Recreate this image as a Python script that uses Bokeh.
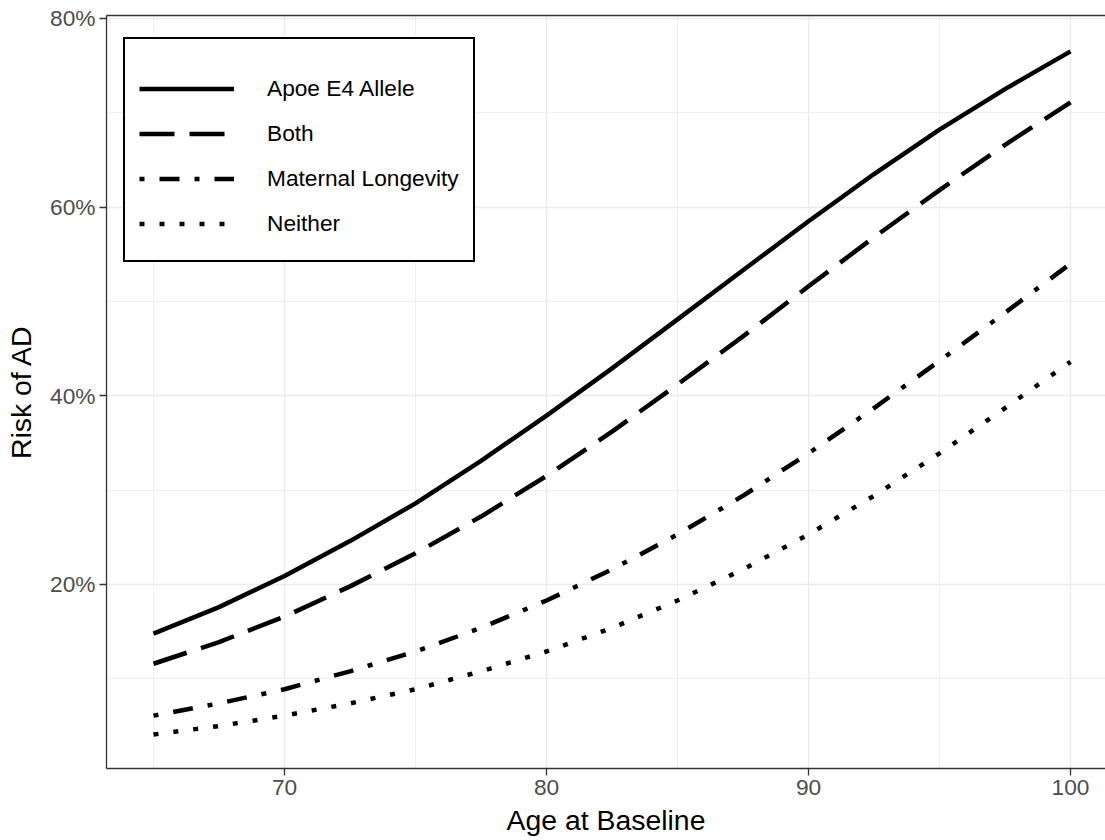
from bokeh.plotting import figure
from bokeh.models import (Range1d, FixedTicker, NumeralTickFormatter, Legend,
                          LegendItem, LinearAxis)
from bokeh.embed import file_html
from bokeh.resources import INLINE

# ---- data ----
ages = [65, 67.5, 70, 72.5, 75, 77.5, 80, 82.5, 85, 87.5, 90, 92.5, 95, 97.5, 100]
apoe = [0.148, 0.176, 0.209, 0.246, 0.286, 0.331, 0.379, 0.429, 0.481, 0.533,
        0.585, 0.635, 0.682, 0.725, 0.765]
both = [0.116, 0.139, 0.166, 0.198, 0.233, 0.272, 0.315, 0.362, 0.412, 0.463,
        0.516, 0.568, 0.618, 0.666, 0.711]
maternal = [0.061, 0.074, 0.089, 0.108, 0.129, 0.154, 0.183, 0.216, 0.253, 0.294,
            0.339, 0.387, 0.437, 0.488, 0.540]
neither = [0.041, 0.050, 0.061, 0.074, 0.089, 0.108, 0.129, 0.154, 0.183, 0.216,
           0.253, 0.294, 0.339, 0.387, 0.436]
series_names = ["Apoe E4 Allele", "Both", "Maternal Longevity", "Neither"]
series_values = [apoe, both, maternal, neither]
series_dash = ["solid", "35 15", "5 15 20 15", "5 15"]

x_ticks = [70, 80, 90, 100]
x_minor = [65, 75, 85, 95]
y_ticks = [0.2, 0.4, 0.6, 0.8]
y_minor = [0.1, 0.3, 0.5, 0.7]

FONT = "Liberation Sans"
GRID = "#EBEBEB"
BORDER = "#333333"

p = figure(width=1105, height=840,
           x_range=Range1d(63.206, 101.335), y_range=Range1d(0.005, 0.803),
           output_backend="svg", toolbar_location=None,
           min_border_left=106, min_border_right=0, min_border_top=15,
           min_border_bottom=72, outline_line_color=None,
           background_fill_color="white", border_fill_color="white")

renderers = []
for vals, dash in zip(series_values, series_dash):
    r = p.line(ages, vals, line_color="black", line_width=4.5, line_dash=dash,
               line_cap="butt", line_join="round")
    renderers.append(r)

# axes
p.xaxis.ticker = FixedTicker(ticks=x_ticks, minor_ticks=x_minor)
p.yaxis.ticker = FixedTicker(ticks=y_ticks, minor_ticks=y_minor)
p.yaxis.formatter = NumeralTickFormatter(format="0%")
p.xaxis.axis_label = "Age at Baseline"
p.yaxis.axis_label = "Risk of AD"
for ax in (p.xaxis, p.yaxis):
    ax.axis_line_color = BORDER
    ax.axis_line_width = 1.3
    ax.major_tick_line_color = BORDER
    ax.major_tick_line_width = 1.3
    ax.major_tick_out = 7
    ax.major_tick_in = 0
    ax.minor_tick_line_color = None
    ax.major_label_text_font = FONT
    ax.major_label_text_font_size = "22.7px"
    ax.major_label_text_color = "#4D4D4D"
    ax.axis_label_text_font = FONT
    ax.axis_label_text_font_size = "28.4px"
    ax.axis_label_text_font_style = "normal"
    ax.axis_label_text_color = "black"
p.xaxis.major_label_standoff = 4
p.xaxis.axis_label_standoff = 6
p.yaxis.major_label_standoff = 4
p.yaxis.axis_label_standoff = 10

# top border
top = LinearAxis(ticker=FixedTicker(ticks=[]), axis_line_color=BORDER,
                 axis_line_width=1.3, major_tick_line_color=None,
                 minor_tick_line_color=None, major_label_text_font_size="0px")
p.add_layout(top, "above")

# grids
p.xgrid.grid_line_color = GRID
p.ygrid.grid_line_color = GRID
p.xgrid.grid_line_width = 1.4
p.ygrid.grid_line_width = 1.4
p.xgrid.minor_grid_line_color = GRID
p.ygrid.minor_grid_line_color = GRID
p.xgrid.minor_grid_line_width = 0.8
p.ygrid.minor_grid_line_width = 0.8

legend = Legend(items=[LegendItem(label=n, renderers=[r])
                       for n, r in zip(series_names, renderers)],
                location=(17, 506), padding=14, margin=0,
                glyph_width=95, glyph_height=45, label_height=45, spacing=0,
                label_standoff=33, label_text_font=FONT,
                label_text_font_size="22.7px", label_text_color="black",
                border_line_color="black", border_line_width=2.2,
                border_line_alpha=1.0,
                background_fill_color="white", background_fill_alpha=1,
                title=" ", title_text_font_size="10px", title_standoff=2)
p.add_layout(legend)

open("out.html", "w").write(file_html(p, INLINE))
